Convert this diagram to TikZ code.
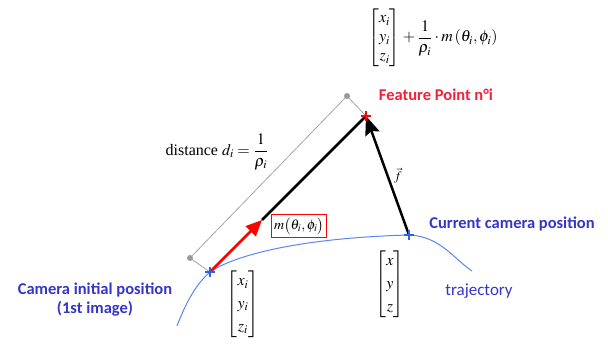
\documentclass[tikz,border=0pt]{standalone}
\usepackage{amsmath}
\usepackage{mathptmx}
\usepackage{fontspec}
\setmainfont{Liberation Serif}
\newfontfamily\labfont{Carlito}
\usetikzlibrary{arrows.meta,calc}
\definecolor{lblue}{HTML}{3535C8}
\definecolor{tblue}{HTML}{5A85F5}
\definecolor{cblue}{HTML}{2F62E6}
\definecolor{fred}{HTML}{F5203A}
\begin{document}
\begin{tikzpicture}[x=1pt,y=-1pt,
  lab/.style={font=\labfont\bfseries\fontsize{16.5}{19}\selectfont, text=lblue, inner sep=0},
  mth/.style={font=\fontsize{16}{19}\selectfont, inner sep=0},
  thick arrow/.style={line width=2.5},
  plus/.style={line width=2.2}]
\path[use as bounding box] (0,0) rectangle (608,347);
\coordinate (F) at (366,116);
\coordinate (C0) at (210,272);
\coordinate (C1) at (409,235);
\coordinate (G0) at (190,258);
\coordinate (G1) at (347,96);
\coordinate (M) at (262,220);
\coordinate (T0) at (177,326);
\coordinate (T1) at (472,271);
% gray distance frame
\draw[gray!70, line width=0.8] (C0) -- (G0) -- (G1) -- (F);
\fill[gray!80] (G0) circle (3) (G1) circle (3);
% trajectory
\draw[tblue, line width=1] (T0) .. controls (185,305) and (195,285) .. (C0)
  .. controls (235,255) and (300,238) .. (C1)
  .. controls (440,236) and (455,260) .. (T1);
% vectors
\draw[black, thick arrow] (M) -- (F);
\draw[red, thick arrow, -{Triangle[length=16,width=14]}] (C0) -- (M);
\draw[black, thick arrow, -{Stealth[length=19,width=15,inset=3]}] (C1) -- (F);
% crosses
\draw[red, plus] ($(F)+(-5,0)$) -- ($(F)+(5,0)$) ($(F)+(0,-5)$) -- ($(F)+(0,5)$);
\draw[cblue, plus] ($(C0)+(-5,0)$) -- ($(C0)+(5,0)$) ($(C0)+(0,-5)$) -- ($(C0)+(0,5)$);
\draw[cblue, plus] ($(C1)+(-5,0)$) -- ($(C1)+(5,0)$) ($(C1)+(0,-5)$) -- ($(C1)+(0,5)$);
% math labels
\node[mth] (top) at (433,38) {$\begin{bmatrix}x_i\\y_i\\z_i\end{bmatrix}+\dfrac{1}{\rho_i}\cdot m\left(\theta_i,\phi_i\right)$};
\node[mth] (dist) at (217,152) {distance $d_i=\dfrac{1}{\rho_i}$};
\node[mth, font=\fontsize{14}{17}\selectfont, draw=red, line width=1, inner sep=3] (mbox) at (299,226) {$m\bigl(\theta_i,\phi_i\bigr)$};
\node[mth] (p0) at (243,304) {\renewcommand{\arraystretch}{1.2}$\begin{bmatrix}x_i\\y_i\\z_i\end{bmatrix}$};
\node[mth] (p1) at (390,284) {\renewcommand{\arraystretch}{1.2}$\begin{bmatrix}x\\y\\z\end{bmatrix}$};
\node[mth, font=\fontsize{13}{15}\selectfont] (fv) at (398,176) {$\vec f$};
% text labels
\node[lab, text=fred] (fp) at (436,95) {Feature Point n°i};
\node[lab] (cur) at (512,224) {Current camera position};
\node[lab, align=center] (ini) at (95,300) {Camera initial position\\(1st image)};
\node[lab, font=\labfont\fontsize{17}{19}\selectfont] (traj) at (479,291) {trajectory};
\end{tikzpicture}
\end{document}
